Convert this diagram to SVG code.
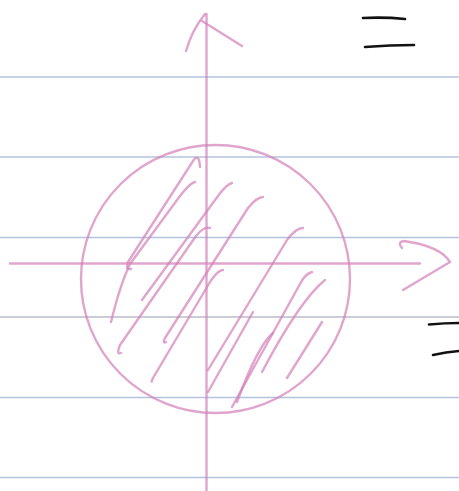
<svg xmlns="http://www.w3.org/2000/svg" width="459" height="491" viewBox="0 0 459 491">
<style>
.rule{stroke:#b3c3dd;stroke-width:1.3;fill:none}
.pink{stroke:#d37fb8;stroke-opacity:0.7;stroke-width:2.4;fill:none;stroke-linecap:round;stroke-linejoin:round}
.ink{stroke:#111;stroke-width:2.6;fill:none;stroke-linecap:round}
</style>
<rect width="459" height="491" fill="#fff"/>
<g id="paper">
<line class="rule" x1="0" y1="77" x2="459" y2="77"/>
<line class="rule" x1="0" y1="157" x2="459" y2="157"/>
<line class="rule" x1="0" y1="237.5" x2="459" y2="237.5"/>
<line class="rule" x1="0" y1="317" x2="459" y2="317" style="stroke:#b9bec6"/>
<line class="rule" x1="0" y1="397.5" x2="459" y2="397.5"/>
<line class="rule" x1="0" y1="477.5" x2="459" y2="477.5"/>
</g>
<g id="circle">
<ellipse class="pink" cx="215.5" cy="279" rx="134.5" ry="134"/>
</g>
<g id="hatching">
<path class="pink" d="M200,167 Q199,152 193,161 L128,262 Q125,270 131,269"/>
<path class="pink" d="M195,182 Q190,183 180,196 L130,264 Q120,285 111,322"/>
<path class="pink" d="M232,183 Q227,184 218,196 L142,300"/>
<path class="pink" d="M210,228 Q204,226 196,236 L120,345 Q116,355 121,353"/>
<path class="pink" d="M263,197 Q257,197 248,208 L165,338 Q162,344 166,342"/>
<path class="pink" d="M223,270 Q218,270 210,282 L153,378 Q151,383 152,381"/>
<path class="pink" d="M303,228 Q296,228 287,240 L208,370"/>
<path class="pink" d="M253,312 L208,392"/>
<path class="pink" d="M312,272 Q305,274 300,284 L232,407"/>
<path class="pink" d="M325,280 Q300,300 262,372"/>
<path class="pink" d="M273,333 Q258,345 237,402"/>
<path class="pink" d="M322,322 L287,378"/>
</g>
<g id="axes">
<line class="pink" x1="206.5" y1="14" x2="206.5" y2="491"/>
<path class="pink" d="M186,51 Q192,30 205,14"/>
<path class="pink" d="M202,21 L242,46"/>
<line class="pink" x1="10" y1="263.5" x2="420" y2="263.5"/>
<path class="pink" d="M402,248 Q397,242 404,241 Q440,246 450,262 L403,290"/>
</g>
<g id="marks">
<path class="ink" d="M363,18 Q385,17 405,19"/>
<path class="ink" d="M365,47 Q390,45 414,45"/>
<path class="ink" d="M429,324.5 Q445,323 459,323"/>
<path class="ink" d="M433,355 Q446,352 459,351"/>
</g>
</svg>
